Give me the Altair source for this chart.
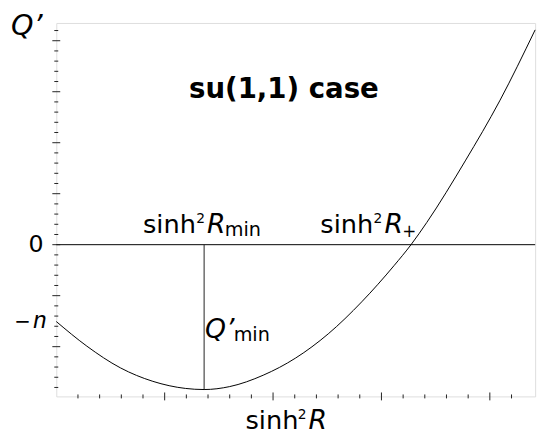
import altair as alt
import pandas as pd

# ---------------- data ----------------
# sinh^2 R (x) and Q' (y) in tick units (1 major tick = 1 unit)
s_vals = [0.0, 0.282, 0.591, 0.891, 1.191, 1.364, 1.600, 1.909, 2.209, 2.509, 2.818,
          3.118, 3.273, 3.418, 3.773, 4.091, 4.418]
q_vals = [-1.507, -1.990, -2.415, -2.680, -2.819, -2.841, -2.783, -2.560, -2.222, -1.749, -1.121,
          -0.406, 0.0, 0.435, 1.643, 2.821, 4.213]
s_min = 1.364
q_min = -2.841

x_domain = [0, 4.418]
y_domain = [-2.976, 4.348]

x_major = [1, 2, 3, 4]
x_minor = [0.2, 0.4, 0.6, 0.8, 1.2, 1.4, 1.6, 1.8, 2.2, 2.4, 2.6, 2.8,
           3.2, 3.4, 3.6, 3.8, 4.2]
y_major = [-2, -1, 0, 1, 2, 3, 4]
y_minor = [-2.8, -2.6, -2.4, -2.2, -1.8, -1.6, -1.4, -1.2, -0.8, -0.6, -0.4, -0.2,
           0.2, 0.4, 0.6, 0.8, 1.2, 1.4, 1.6, 1.8, 2.2, 2.4, 2.6, 2.8,
           3.2, 3.4, 3.6, 3.8, 4.2]

W, H = 486, 379
FONT = "DejaVu Sans"

xs = alt.Scale(domain=x_domain, nice=False, zero=False)
ys = alt.Scale(domain=y_domain, nice=False, zero=False)

curve_df = pd.DataFrame({"s": s_vals, "q": q_vals})
curve = alt.Chart(curve_df).mark_line(color="black", strokeWidth=1, interpolate="monotone").encode(
    x=alt.X("s:Q", scale=xs, axis=None),
    y=alt.Y("q:Q", scale=ys, axis=None),
)

dummy = pd.DataFrame({"a": [0]})

zero_line = alt.Chart(dummy).mark_rule(color="black", strokeWidth=1).encode(
    y=alt.Y("z:Q", scale=ys, axis=None)
).transform_calculate(z="0")

vline = alt.Chart(dummy).mark_rule(color="#222", strokeWidth=1).encode(
    x=alt.X("xv:Q", scale=xs, axis=None),
    y=alt.Y("y0:Q", scale=ys, axis=None),
    y2="y1:Q",
).transform_calculate(xv=str(s_min), y0="0", y1=str(q_min))

def xticks(vals, half):
    return alt.Chart(pd.DataFrame({"v": vals})).mark_rule(color="#222", strokeWidth=1).encode(
        x=alt.X("v:Q", scale=xs, axis=None),
        y=alt.value(H - half), y2=alt.value(H + half),
    )

def yticks(vals, half):
    return alt.Chart(pd.DataFrame({"v": vals})).mark_rule(color="#222", strokeWidth=1).encode(
        y=alt.Y("v:Q", scale=ys, axis=None),
        x=alt.value(-half), x2=alt.value(half),
    )

def txt(t, x, y, size, style="normal", weight="normal", font=FONT, align="left", baseline="alphabetic"):
    return alt.Chart(dummy).mark_text(
        text=t, fontSize=size, fontStyle=style, fontWeight=weight, font=font,
        align=align, baseline=baseline, color="black",
    ).encode(x=alt.value(x), y=alt.value(y))

texts = [
    # Q' axis label
    txt("Q\u2019", -46, 12, 29, style="italic"),
    # title
    txt("su(1,1) case", 231, 76, 28, weight="bold", align="center"),
    # sinh^2 R_min
    txt("sinh", 88, 213, 26),
    txt("2", 142, 203, 14),
    txt("R", 153, 213, 27, style="italic"),
    txt("min", 171, 216, 19.5),
    # sinh^2 R_+
    txt("sinh", 268, 213, 26),
    txt("2", 322, 203, 14),
    txt("R", 333, 213, 27, style="italic"),
    txt("+", 351, 217, 17),
    # y labels
    txt("0", -13, 225, 24, align="right", baseline="middle"),
    txt("\u2212", -26, 310, 20, align="right"),
    txt("n", -24, 310, 24, style="italic", font="Liberation Mono"),
    # Q'_min
    txt("Q\u2019", 151, 320, 27, style="italic"),
    txt("min", 180, 323, 19.5),
    # x title
    txt("sinh", 192, 412, 26),
    txt("2", 245, 402, 14),
    txt("R", 256, 412, 27, style="italic"),
]

chart = alt.layer(
    zero_line, vline, curve,
    xticks(x_minor, 2), xticks(x_major, 4),
    yticks(y_minor, 2), yticks(y_major, 4),
    *texts,
).properties(
    width=W, height=H,
    autosize=alt.AutoSizeParams(type="none"),
    padding={"left": 49, "top": 12, "right": 10, "bottom": 40},
).configure_view(stroke="#222", strokeWidth=1).configure(background="white")

chart.save("out.html", embed_options={"renderer": "svg", "actions": False})
